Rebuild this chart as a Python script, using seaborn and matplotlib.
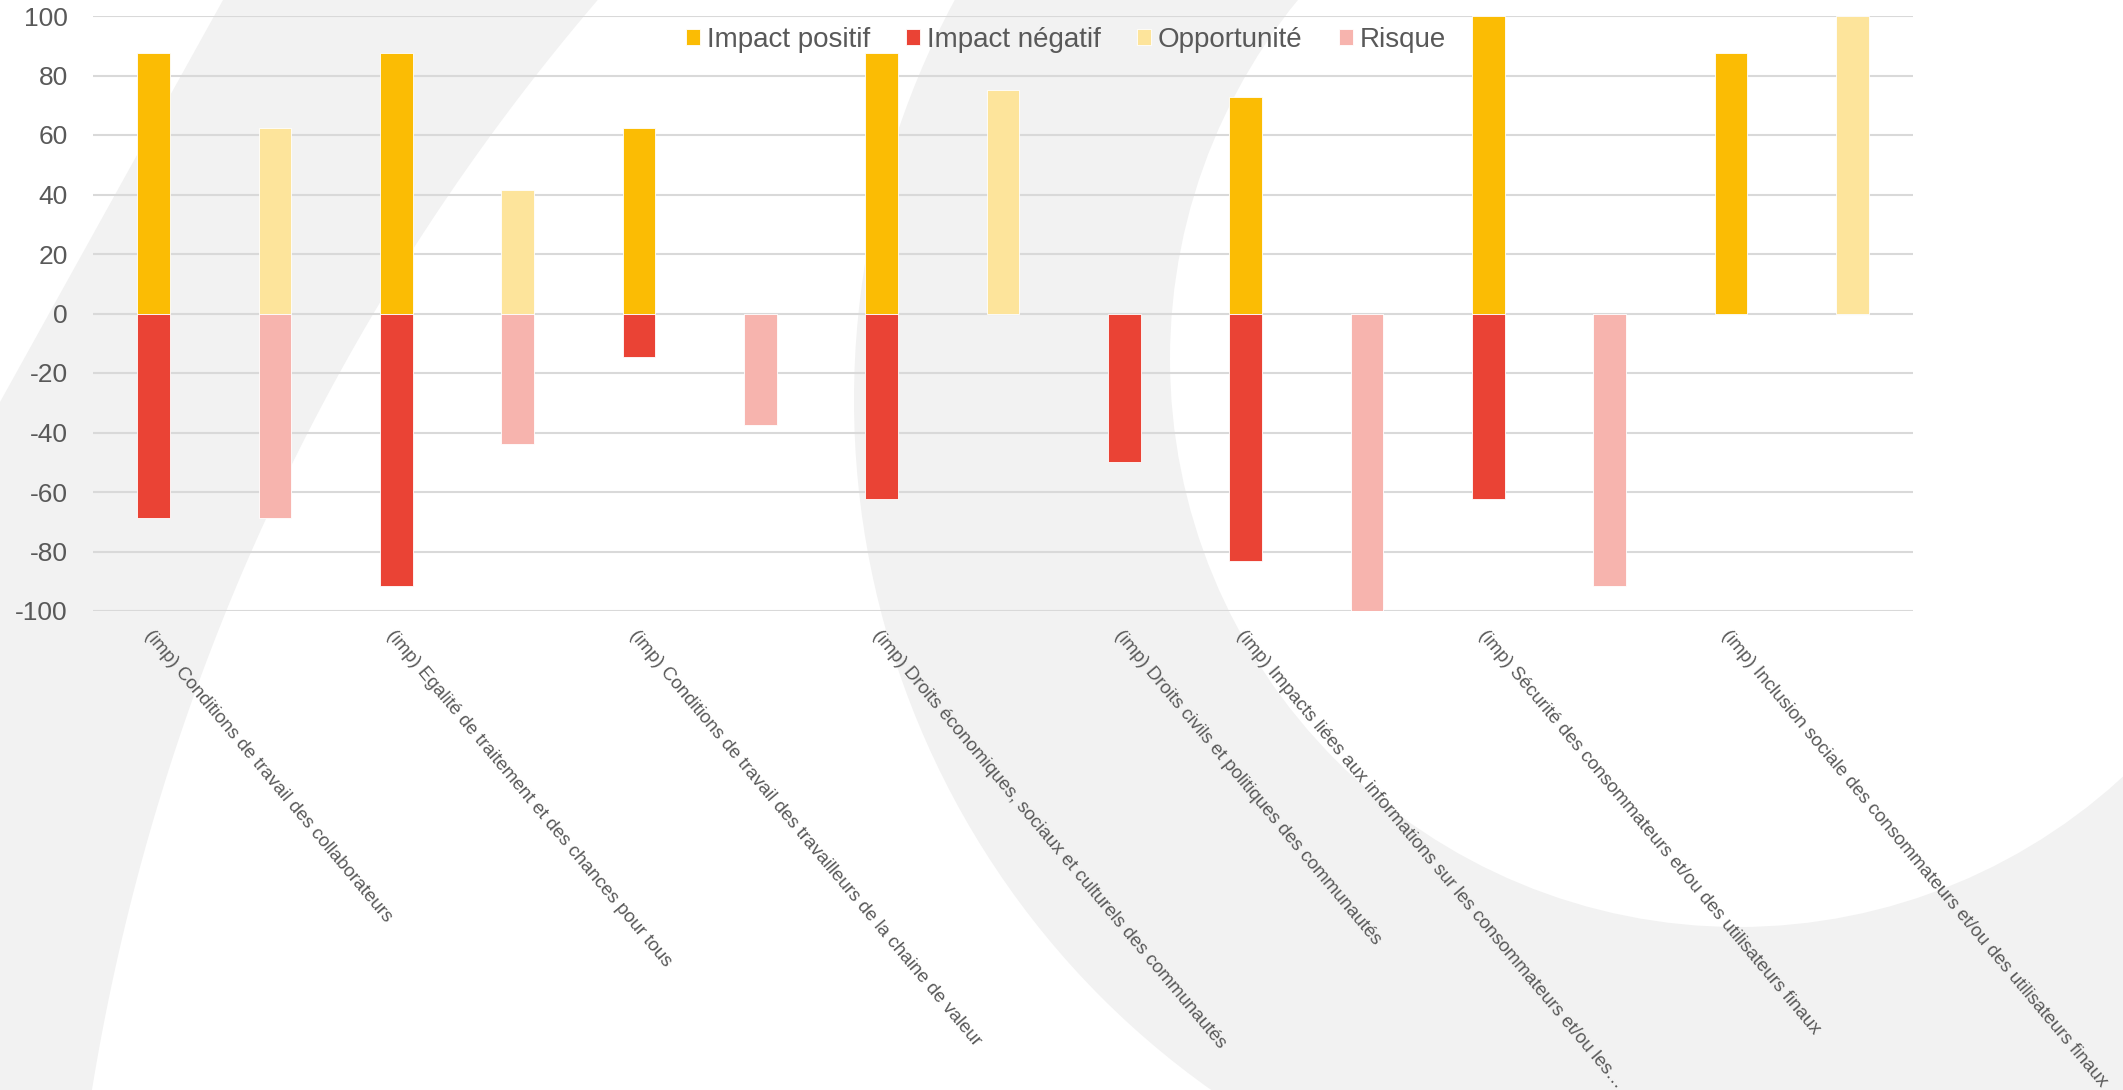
import numpy as np
import pandas as pd
import seaborn as sns
import matplotlib.pyplot as plt
import matplotlib.transforms as mtransforms
from matplotlib.patches import Circle, Polygon

W, H = 2123, 1090
DPI = 100

# 15 slots: each theme has an "impact" slot, most also have an opportunity/risk slot
slot_labels = [
    "(imp) Conditions de travail des collaborateurs", "",
    "(imp) Egalité de traitement et des chances pour tous", "",
    "(imp) Conditions de travail des travailleurs de la chaine de valeur", "",
    "(imp) Droits économiques, sociaux et culturels des communautés", "",
    "(imp) Droits civils et politiques des communautés",
    "(imp) Impacts liées aux informations sur les consommateurs et/ou les…", "",
    "(imp) Sécurité des consommateurs et/ou des utilisateurs finaux", "",
    "(imp) Inclusion sociale des consommateurs et/ou des utilisateurs finaux", "",
]
nan = np.nan
impact_positif = [87.5, nan, 87.5, nan, 62.5, nan, 87.5, nan, nan, 72.7, nan, 100, nan, 87.5, nan]
impact_negatif = [-68.75, nan, -91.67, nan, -14.6, nan, -62.5, nan, -50, -83.33, nan, -62.5, nan, nan, nan]
opportunite = [nan, 62.5, nan, 41.67, nan, nan, nan, 75, nan, nan, nan, nan, nan, nan, 100]
risque = [nan, -68.75, nan, -43.75, nan, -37.5, nan, nan, nan, nan, -100, nan, -91.67, nan, nan]

series = ["Impact positif", "Impact négatif", "Opportunité", "Risque"]
colors = {
    "Impact positif": "#FBBC04",
    "Impact négatif": "#EA4335",
    "Opportunité": "#FDE49B",
    "Risque": "#F7B4AE",
}

df = pd.DataFrame({
    "slot": range(len(slot_labels)),
    "Impact positif": impact_positif,
    "Impact négatif": impact_negatif,
    "Opportunité": opportunite,
    "Risque": risque,
})
long_df = df.melt(id_vars="slot", var_name="serie", value_name="valeur").dropna()

sns.set_theme(style="white")
plt.rcParams["font.family"] = ["Liberation Sans", "DejaVu Sans"]
plt.rcParams["axes.unicode_minus"] = False
TEXT = "#595959"
GRAY = "#F2F2F2"

fig = plt.figure(figsize=(W / DPI, H / DPI), dpi=DPI)

# decorative background shapes (pixel coords, y down)
bg = fig.add_axes([0, 0, 1, 1], zorder=0)
bg.set_xlim(0, W)
bg.set_ylim(H, 0)
bg.axis("off")

cx, cy, r = 2291, 1448, 2228
a0 = np.arctan2(0 - cy, 598 - cx)
a1 = np.arctan2(1090 - cy, 92 - cx)
t = np.linspace(a0, a1, 80)
arc = np.column_stack([cx + r * np.cos(t), cy + r * np.sin(t)])
band = np.vstack([arc, [[0, 1090], [0, 402], [223, 0]]])
bg.add_patch(Polygon(band, closed=True, facecolor=GRAY, edgecolor="none"))
bg.add_patch(Circle((1699, 400), 845, facecolor=GRAY, edgecolor="none"))
bg.add_patch(Circle((1738, 359), 568, facecolor="white", edgecolor="none"))

ax = fig.add_axes([93 / W, 1 - 611 / H, 1820 / W, 595 / H], zorder=1)
ax.patch.set_alpha(0)

sns.barplot(
    data=long_df, x="slot", y="valeur", hue="serie",
    order=list(range(len(slot_labels))), hue_order=series, palette=colors,
    dodge=False, width=0.27, errorbar=None, saturation=1,
    linewidth=0.6, edgecolor="white", ax=ax,
)

ax.set_ylim(-100, 100)
ax.set_yticks(range(-100, 101, 20))
ax.set_xticks(range(len(slot_labels)))
ax.set_xticklabels(slot_labels, rotation=-50, ha="left", va="top",
                   rotation_mode="anchor", fontsize=13.5, color=TEXT)
shift = mtransforms.ScaledTranslation(-0.07, 0, fig.dpi_scale_trans)
for lbl in ax.get_xticklabels():
    lbl.set_transform(lbl.get_transform() + shift)

ax.tick_params(axis="x", length=0, pad=11.5)
ax.tick_params(axis="y", length=0, pad=18, labelsize=19, labelcolor=TEXT)
ax.yaxis.grid(True, color="#D9D9D9", linewidth=1.5)
ax.xaxis.grid(False)
ax.set_axisbelow(True)
sns.despine(ax=ax, left=True, bottom=True)
ax.set_xlabel("")
ax.set_ylabel("")

sns.move_legend(
    ax, "center", bbox_to_anchor=(0.5346, 0.9597), ncol=4, frameon=False,
    title=None, fontsize=20, handlelength=0.5, handleheight=0.5,
    handletextpad=0.25, columnspacing=1.3,
)
for txt in ax.get_legend().get_texts():
    txt.set_color(TEXT)

fig.savefig("out.png", dpi=DPI)
